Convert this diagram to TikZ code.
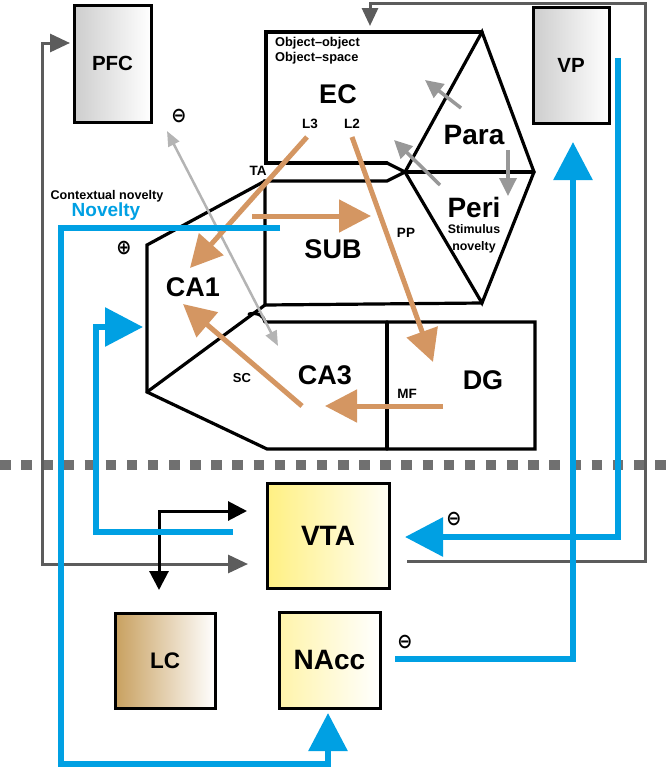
\documentclass[tikz,border=0pt]{standalone}
\usepackage{fontspec}
\setmainfont{Liberation Sans}
\newfontfamily\symfont{DejaVu Sans}
\usetikzlibrary{arrows.meta}
\definecolor{nblue}{RGB}{0,160,227}
\definecolor{orng}{RGB}{212,150,98}
\definecolor{dgray}{RGB}{92,92,92}
\definecolor{lgray}{RGB}{180,180,180}
\definecolor{mgray}{RGB}{152,152,152}
\definecolor{dashg}{RGB}{112,112,112}
\definecolor{boxg}{RGB}{205,205,205}
\definecolor{yel}{RGB}{255,240,130}
\definecolor{yel2}{RGB}{255,244,170}
\definecolor{tan}{RGB}{200,160,95}
\newcommand{\fs}[1]{\bfseries\fontsize{#1}{#1}\selectfont}
\begin{document}
\begin{tikzpicture}[x=1pt,y=-1pt,
  hip/.style={line width=3.2pt, line join=miter, line cap=round},
  box/.style={draw, line width=3pt, inner sep=0pt},
  lbl/.style={inner sep=0pt, text=black},
  sign/.style={inner sep=0pt, text=black, font=\symfont\bfseries\fontsize{18}{18}\selectfont, yscale=-1.15},
  oarr/.style={draw=orng, line width=5pt, -{Triangle[length=32pt,width=32pt]}},
  barr/.style={draw=nblue, line width=6pt, line join=miter, -{Triangle[length=38pt,width=38pt]}},
  garr/.style={draw=dgray, line width=3pt, {Triangle[length=20pt,width=18pt]}-{Triangle[length=20pt,width=18pt]}},
  marr/.style={draw=mgray, line width=3.5pt, -{Triangle[length=18pt,width=17pt]}},
  larr/.style={draw=lgray, line width=2.5pt, {Triangle[length=15pt,width=12pt]}-{Triangle[length=15pt,width=12pt]}},
  karr/.style={draw=black, line width=3pt, {Triangle[length=19pt,width=19pt]}-{Triangle[length=19pt,width=19pt]}},
  dashline/.style={draw=dashg, line width=10pt, dash pattern=on 10.5pt off 10.63pt}
]
\useasboundingbox (0,0) rectangle (666,769);

% dashed separator
\draw[dashline] (0,465) -- (666,465);

% boxes
\node[box, left color=boxg, right color=white, minimum width=77pt, minimum height=117pt, font=\fs{20.5}] (PFC) at (112.5,63.5) {PFC};
\node[box, left color=boxg, right color=white, minimum width=76pt, minimum height=116pt, font=\fs{20.5}] (VP) at (571,65) {VP};
\node[box, left color=yel, right color=white!92!yel, minimum width=122pt, minimum height=105pt, font=\fs{28}] (VTA) at (328,535.5) {VTA};
\node[box, left color=tan, right color=white, minimum width=100pt, minimum height=95pt, font=\fs{22.5}] (LC) at (165,660.5) {LC};
\node[box, left color=yel2, right color=white, minimum width=101pt, minimum height=96pt, font=\fs{28}] (NAcc) at (329.5,660) {NAcc};

% hippocampal formation outlines
\draw[hip] (387,163) -- (266,163) -- (266,32) -- (482,32);
\draw[hip] (387,163) -- (405,172);
\draw[hip] (482,32) -- (534,172) -- (482,303) -- (405,172) -- cycle;
\draw[hip] (405,172) -- (534,172);
\draw[hip] (405,172) -- (387,181) -- (265,181) -- (265,305) -- (482,303);
\draw[hip] (265,181) -- (147,245) -- (147,392) -- (267,449) -- (535,449) -- (535,322) -- (265,322);
\draw[hip] (147,392) -- (265,305);
\draw[hip] (249,314) .. controls (258,312) and (264,316) .. (265,322);
\draw[hip] (387,322) -- (387,449);

% region labels
\node[lbl, font=\fs{12.8}, anchor=west] (oo) at (275,43) {Object–object};
\node[lbl, font=\fs{12.8}, anchor=west] (os) at (275,58) {Object–space};
\node[lbl, font=\fs{27}] (EC) at (338,94) {EC};
\node[lbl, font=\fs{13.5}] (L3) at (310,124) {L3};
\node[lbl, font=\fs{13.5}] (L2) at (352,124) {L2};
\node[lbl, font=\fs{28}] (Para) at (474,135) {Para};
\node[lbl, font=\fs{28}] (Peri) at (474,207) {Peri};
\node[lbl, font=\bfseries\fontsize{12.4}{16.5}\selectfont, align=center] (stim) at (474,239) {Stimulus\\novelty};
\node[lbl, font=\fs{27}] (SUB) at (333,249) {SUB};
\node[lbl, font=\fs{27}] (CA1) at (193,287) {CA1};
\node[lbl, font=\fs{27}] (CA3) at (325,375) {CA3};
\node[lbl, font=\fs{27}] (DG) at (483,380) {DG};
\node[lbl, font=\fs{13.5}] (TA) at (258,171) {TA};
\node[lbl, font=\fs{13.5}] (PP) at (406,233) {PP};
\node[lbl, font=\fs{13}] (SC) at (242,378) {SC};
\node[lbl, font=\fs{13.5}] (MF) at (407,394) {MF};
\node[lbl, font=\fs{12.6}] (ctx) at (107,196) {Contextual novelty};
\node[lbl, font=\fs{19}, text=nblue] (nov) at (106,212) {Novelty};

% signs
\node[sign] (s1) at (179,116) {⊖};
\node[sign] (s2) at (124,248) {⊕};
\node[sign] (s3) at (454,519) {⊖};
\node[sign] (s4) at (405,642) {⊖};

% connector points
\coordinate (g1) at (42,43);
\coordinate (g2) at (42,564);
\coordinate (pfcin) at (70,43);
\coordinate (vtain) at (248,564);
\coordinate (vtaout) at (407,561);
\coordinate (gr1) at (645,561);
\coordinate (gr2) at (645,3);
\coordinate (gr3) at (370,3);
\coordinate (ecin) at (370,26);

% dark gray connectors
\draw[garr] (pfcin) -- (g1) -- (g2) -- (vtain);
\draw[draw=dgray, line width=3pt, line join=miter, -{Triangle[length=18pt,width=16pt]}] (vtaout) -- (gr1) -- (gr2) -- (gr3) -- (ecin);

% black VTA <-> LC
\coordinate (k1) at (159,511);
\draw[karr] (159,590) -- (k1) -- (247,511);

% light gray double arrow
\draw[larr] (167,131) -- (278,346);

% medium gray arrows in EC / Para / Peri
\draw[marr] (461,108) -- (425,80);
\draw[marr] (440,185) -- (394,140);
\draw[marr] (508,150) -- (508,196);

% orange pathways
\draw[oarr] (307,137) -- (190,268);
\draw[oarr] (252,216) -- (371,216);
\draw[oarr] (352,137) -- (433,362);
\draw[oarr] (443,406) -- (325,406);
\draw[oarr] (302,406) -- (183,304);

% blue pathways
\draw[barr] (280,228) -- (61,228) -- (61,764) -- (328,764) -- (328,713);
\draw[barr] (233,532) -- (96,532) -- (96,327) -- (143,327);
\draw[barr] (618,58) -- (618,537) -- (405,537);
\draw[barr] (395,659) -- (573,659) -- (573,142);
\end{tikzpicture}
\end{document}
